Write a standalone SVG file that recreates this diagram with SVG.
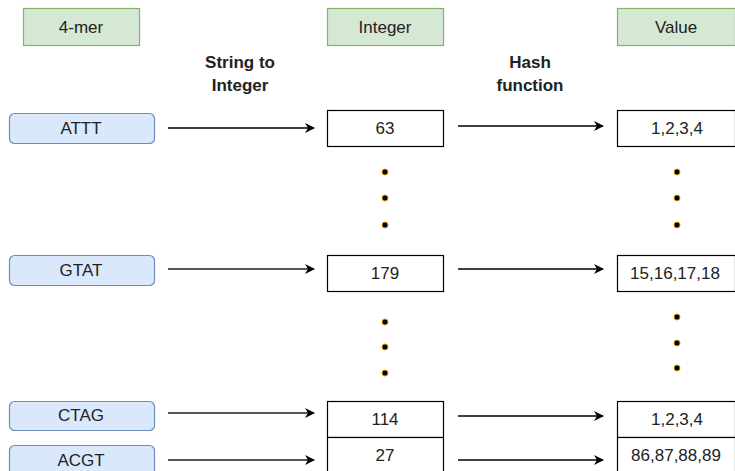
<svg xmlns="http://www.w3.org/2000/svg" width="735" height="471" viewBox="0 0 735 471">
<defs>
<marker id="ah" viewBox="0 0 10 10" refX="9" refY="5" markerWidth="10" markerHeight="10" markerUnits="userSpaceOnUse" orient="auto"><path d="M0,0 L10,5 L0,10 L3,5 Z" fill="#000"/></marker>
<style>
text{font-family:"Liberation Sans",Arial,sans-serif;font-size:17px;fill:#222;text-anchor:middle;dominant-baseline:central}
.b{font-weight:bold;font-size:17px}
.hdr{fill:#d5e8d4;stroke:#82b366;stroke-width:1.2}
.kmer{fill:#dae8fc;stroke:#6c8ebf;stroke-width:1.2}
.box{fill:#fff;stroke:#000;stroke-width:1.2}
.c{stroke:#000;stroke-width:1.3;fill:none;marker-end:url(#ah)}
.g{stroke:#555;stroke-width:2}
.dot{fill:#000;stroke:#d79b00;stroke-width:1}
</style>
</defs>
<g id="hdr-kmer"><rect class="hdr" x="23.5" y="8.5" width="116" height="37"/><text x="81" y="27">4-mer</text></g>
<g id="hdr-int"><rect class="hdr" x="327.5" y="8.5" width="116" height="37" style="stroke:#82b366"/><text x="385" y="27">Integer</text></g>
<g id="hdr-val"><rect class="hdr" x="617.5" y="8.5" width="118" height="37"/><text x="676" y="27">Value</text></g>
<g id="lbl-s2i"><text class="b" x="240" y="62">String to</text><text class="b" x="240" y="85">Integer</text></g>
<g id="lbl-hash"><text class="b" x="530" y="62">Hash</text><text class="b" x="530" y="85">function</text></g>

<g id="k-attt"><rect class="kmer" x="9.5" y="113.5" width="145" height="30" rx="5"/><text x="81" y="128">ATTT</text></g>
<g id="k-gtat"><rect class="kmer" x="9.5" y="255.5" width="145" height="30" rx="5"/><text x="81" y="270">GTAT</text></g>
<g id="k-ctag"><rect class="kmer" x="9.5" y="401.5" width="145" height="29" rx="5"/><text x="81" y="415">CTAG</text></g>
<g id="k-acgt"><rect class="kmer" x="9.5" y="445.5" width="145" height="32" rx="5"/><text x="81" y="460">ACGT</text></g>

<g id="i-63"><rect class="box" x="327.5" y="110.5" width="116" height="36"/><text x="385" y="128">63</text></g>
<g id="i-179"><rect class="box" x="327.5" y="255.5" width="116" height="36"/><text x="385" y="273">179</text></g>
<g id="i-114"><rect class="box" x="327.5" y="401.5" width="116" height="36"/><text x="385" y="419">114</text></g>
<g id="i-27"><rect class="box" x="327.5" y="437.5" width="116" height="40"/><text x="385" y="455">27</text></g>

<g id="v-1234a"><rect class="box" x="617.5" y="110.5" width="118" height="36"/><text x="677" y="128">1,2,3,4</text></g>
<g id="v-15"><rect class="box" x="617.5" y="255.5" width="118" height="36"/><text x="675" y="273">15,16,17,18</text></g>
<g id="v-1234b"><rect class="box" x="617.5" y="401.5" width="118" height="36"/><text x="677" y="419">1,2,3,4</text></g>
<g id="v-86"><rect class="box" x="617.5" y="437.5" width="118" height="40"/><text x="676" y="455">86,87,88,89</text></g>

<g id="dots">
<circle class="dot" cx="385" cy="172" r="3"/><circle class="dot" cx="385" cy="198" r="3"/><circle class="dot" cx="385" cy="225" r="3"/>
<circle class="dot" cx="677" cy="172" r="3"/><circle class="dot" cx="677" cy="198" r="3"/><circle class="dot" cx="677" cy="225" r="3"/>
<circle class="dot" cx="385" cy="322" r="3"/><circle class="dot" cx="385" cy="347" r="3"/><circle class="dot" cx="385" cy="373" r="3"/>
<circle class="dot" cx="677" cy="317" r="3"/><circle class="dot" cx="677" cy="343" r="3"/><circle class="dot" cx="677" cy="368" r="3"/>
</g>

<g id="connectors">
<path class="c" d="M168,128 H314"/>
<path class="c g" d="M168,269 H314"/>
<path class="c g" d="M168,413 H314"/>
<path class="c g" d="M168,460 H314"/>
<path class="c" d="M458,126 H603"/>
<path class="c" d="M458,269 H603"/>
<path class="c" d="M458,416 H603"/>
<path class="c" d="M458,460 H603"/>
</g>
</svg>
